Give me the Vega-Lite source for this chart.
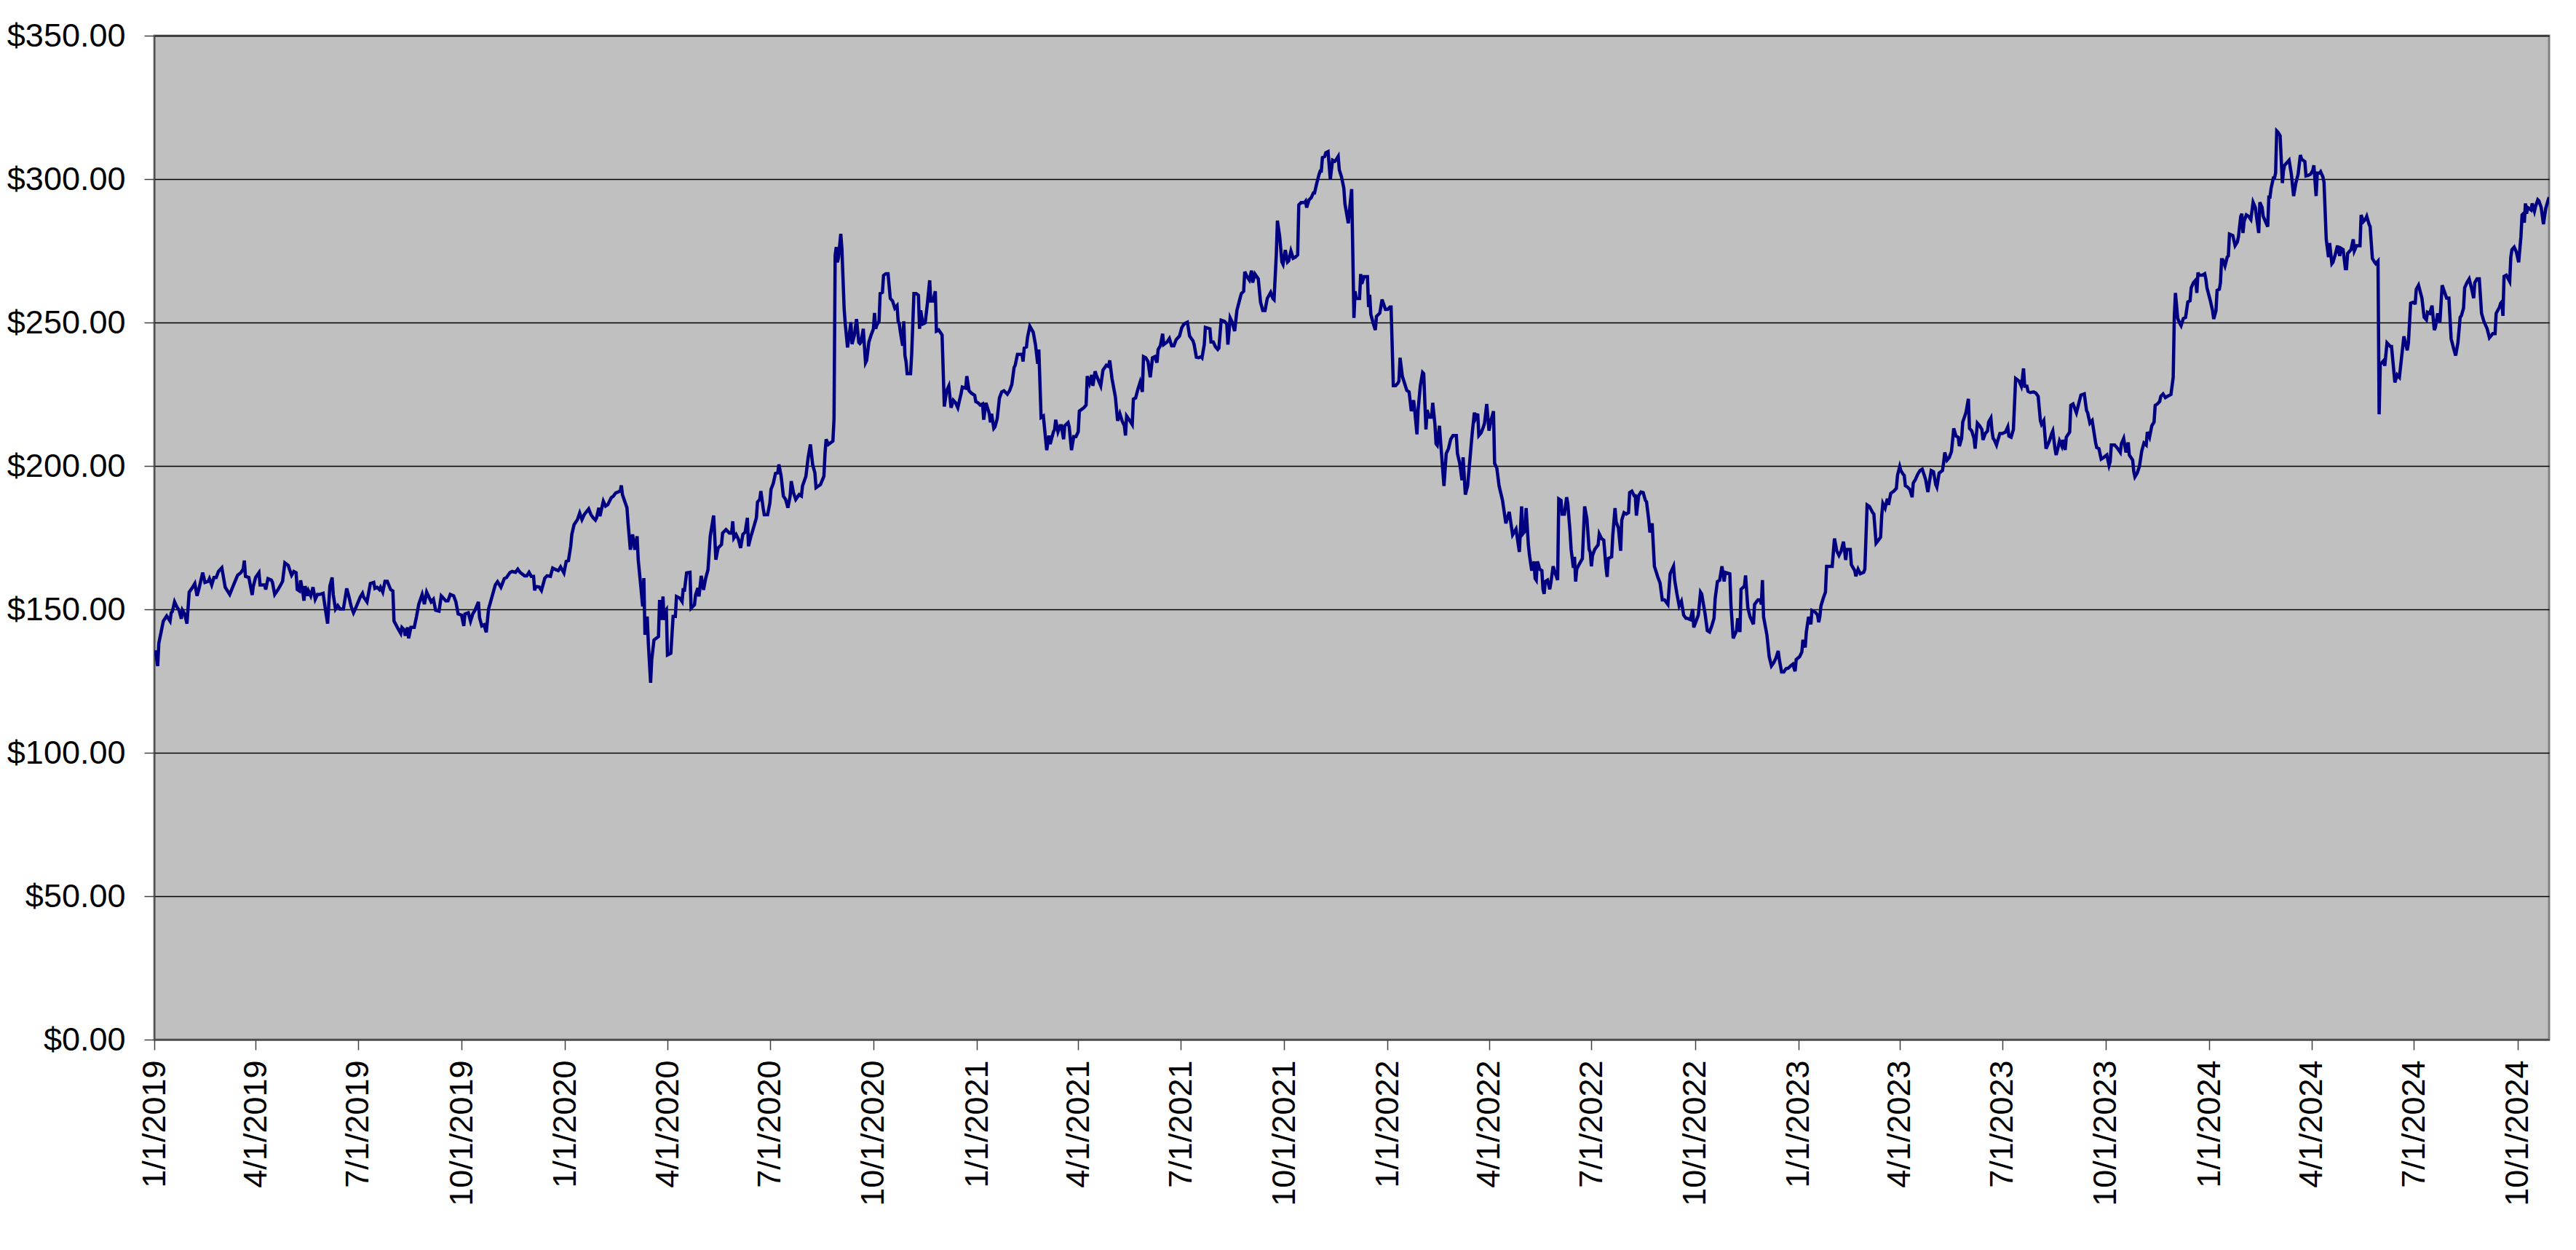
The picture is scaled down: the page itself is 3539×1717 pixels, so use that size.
{
"$schema":"https://vega.github.io/schema/vega-lite/v6.json",
"width":3290,"height":1379,
"autosize":{"type":"none"},
"padding":{"left":212,"top":49,"right":37,"bottom":289},
"background":"#ffffff",
"config":{"view":{"fill":"#C0C0C0","stroke":"#808080","strokeWidth":3},"font":"Liberation Sans"},
"data":{"values":[
{"date":"2019-01-02","price":135.7},{"date":"2019-01-04","price":130.2},{"date":"2019-01-05","price":138.2},{"date":"2019-01-07","price":142.0},{"date":"2019-01-09","price":145.9},{"date":"2019-01-12","price":147.7},{"date":"2019-01-15","price":145.9},{"date":"2019-01-16","price":148.8},{"date":"2019-01-17","price":149.2},{"date":"2019-01-19","price":152.6},{"date":"2019-01-21","price":150.9},{"date":"2019-01-23","price":149.7},{"date":"2019-01-25","price":146.7},{"date":"2019-01-26","price":149.7},{"date":"2019-01-28","price":148.4},{"date":"2019-01-30","price":145.0},
{"date":"2019-02-01","price":156.0},{"date":"2019-02-04","price":157.7},{"date":"2019-02-06","price":159.0},{"date":"2019-02-08","price":154.7},{"date":"2019-02-10","price":157.7},{"date":"2019-02-13","price":162.8},{"date":"2019-02-15","price":159.4},{"date":"2019-02-18","price":159.8},{"date":"2019-02-19","price":160.7},{"date":"2019-02-21","price":158.5},{"date":"2019-02-23","price":161.1},{"date":"2019-02-25","price":161.1},{"date":"2019-02-27","price":163.2},
{"date":"2019-03-02","price":164.5},{"date":"2019-03-05","price":157.7},{"date":"2019-03-09","price":155.2},{"date":"2019-03-12","price":158.1},{"date":"2019-03-16","price":161.9},{"date":"2019-03-19","price":162.8},{"date":"2019-03-21","price":164.0},{"date":"2019-03-22","price":167.0},{"date":"2019-03-23","price":161.5},{"date":"2019-03-26","price":161.1},{"date":"2019-03-29","price":155.0},{"date":"2019-03-30","price":158.1},
{"date":"2019-04-01","price":161.1},{"date":"2019-04-04","price":162.8},{"date":"2019-04-05","price":158.5},{"date":"2019-04-09","price":158.5},{"date":"2019-04-10","price":156.9},{"date":"2019-04-12","price":160.7},{"date":"2019-04-15","price":160.2},{"date":"2019-04-16","price":159.4},{"date":"2019-04-18","price":155.2},{"date":"2019-04-21","price":156.9},{"date":"2019-04-24","price":159.0},{"date":"2019-04-25","price":159.8},{"date":"2019-04-27","price":166.2},{"date":"2019-04-30","price":165.3},
{"date":"2019-05-03","price":161.9},{"date":"2019-05-05","price":163.2},{"date":"2019-05-07","price":162.8},{"date":"2019-05-08","price":156.9},{"date":"2019-05-10","price":156.4},{"date":"2019-05-11","price":160.1},{"date":"2019-05-13","price":156.0},{"date":"2019-05-14","price":153.0},{"date":"2019-05-15","price":158.1},{"date":"2019-05-17","price":154.7},{"date":"2019-05-18","price":156.4},{"date":"2019-05-20","price":154.7},{"date":"2019-05-22","price":157.7},{"date":"2019-05-24","price":153.5},{"date":"2019-05-26","price":155.2},{"date":"2019-05-28","price":155.2},{"date":"2019-05-31","price":155.6},
{"date":"2019-06-02","price":150.1},{"date":"2019-06-04","price":145.0},{"date":"2019-06-06","price":158.1},{"date":"2019-06-08","price":161.1},{"date":"2019-06-09","price":155.2},{"date":"2019-06-11","price":150.1},{"date":"2019-06-13","price":151.3},{"date":"2019-06-15","price":150.1},{"date":"2019-06-18","price":150.1},{"date":"2019-06-21","price":157.3},{"date":"2019-06-23","price":154.3},{"date":"2019-06-25","price":150.9},{"date":"2019-06-27","price":148.8},{"date":"2019-06-29","price":150.5},
{"date":"2019-07-03","price":154.3},{"date":"2019-07-05","price":155.6},{"date":"2019-07-06","price":154.3},{"date":"2019-07-09","price":152.6},{"date":"2019-07-12","price":159.0},{"date":"2019-07-15","price":159.4},{"date":"2019-07-16","price":157.3},{"date":"2019-07-18","price":157.7},{"date":"2019-07-20","price":156.9},{"date":"2019-07-21","price":157.7},{"date":"2019-07-23","price":156.0},{"date":"2019-07-25","price":159.8},{"date":"2019-07-27","price":159.8},{"date":"2019-07-30","price":156.9},
{"date":"2019-08-01","price":156.4},{"date":"2019-08-02","price":145.9},{"date":"2019-08-05","price":143.7},{"date":"2019-08-08","price":141.6},{"date":"2019-08-09","price":143.7},{"date":"2019-08-11","price":142.9},{"date":"2019-08-12","price":140.8},{"date":"2019-08-14","price":143.7},{"date":"2019-08-15","price":139.9},{"date":"2019-08-17","price":143.7},{"date":"2019-08-20","price":143.7},{"date":"2019-08-22","price":147.5},{"date":"2019-08-24","price":151.8},{"date":"2019-08-27","price":155.2},{"date":"2019-08-29","price":151.8},{"date":"2019-08-31","price":156.0},
{"date":"2019-09-02","price":154.3},{"date":"2019-09-04","price":152.6},{"date":"2019-09-06","price":153.5},{"date":"2019-09-08","price":149.7},{"date":"2019-09-11","price":149.4},{"date":"2019-09-13","price":154.7},{"date":"2019-09-17","price":153.0},{"date":"2019-09-19","price":153.0},{"date":"2019-09-21","price":155.2},{"date":"2019-09-24","price":154.7},{"date":"2019-09-26","price":152.6},{"date":"2019-09-28","price":148.4},
{"date":"2019-10-01","price":148.0},{"date":"2019-10-03","price":144.2},{"date":"2019-10-04","price":148.4},{"date":"2019-10-07","price":148.8},{"date":"2019-10-09","price":145.9},{"date":"2019-10-11","price":148.4},{"date":"2019-10-13","price":149.7},{"date":"2019-10-16","price":152.6},{"date":"2019-10-17","price":147.1},{"date":"2019-10-19","price":144.2},{"date":"2019-10-21","price":144.6},{"date":"2019-10-23","price":142.0},{"date":"2019-10-25","price":150.1},{"date":"2019-10-28","price":154.3},{"date":"2019-10-31","price":158.5},
{"date":"2019-11-02","price":159.6},{"date":"2019-11-05","price":157.7},{"date":"2019-11-08","price":160.7},{"date":"2019-11-10","price":161.1},{"date":"2019-11-13","price":162.8},{"date":"2019-11-15","price":163.2},{"date":"2019-11-18","price":162.9},{"date":"2019-11-20","price":164.0},{"date":"2019-11-22","price":162.9},{"date":"2019-11-26","price":161.7},{"date":"2019-11-28","price":161.7},{"date":"2019-11-30","price":162.9},
{"date":"2019-12-02","price":161.5},{"date":"2019-12-04","price":161.5},{"date":"2019-12-05","price":156.6},{"date":"2019-12-06","price":158.0},{"date":"2019-12-09","price":157.8},{"date":"2019-12-11","price":156.6},{"date":"2019-12-14","price":160.9},{"date":"2019-12-16","price":161.7},{"date":"2019-12-19","price":161.5},{"date":"2019-12-21","price":164.4},{"date":"2019-12-24","price":163.8},{"date":"2019-12-26","price":163.5},{"date":"2019-12-28","price":164.8},{"date":"2019-12-31","price":162.7},
{"date":"2020-01-02","price":166.7},{"date":"2020-01-04","price":167.0},{"date":"2020-01-06","price":172.0},{"date":"2020-01-07","price":176.1},{"date":"2020-01-09","price":179.5},{"date":"2020-01-12","price":181.3},{"date":"2020-01-14","price":183.6},{"date":"2020-01-16","price":181.3},{"date":"2020-01-18","price":183.0},{"date":"2020-01-22","price":185.0},{"date":"2020-01-24","price":183.0},{"date":"2020-01-26","price":181.9},{"date":"2020-01-28","price":181.1},{"date":"2020-01-29","price":181.9},{"date":"2020-01-31","price":185.4},
{"date":"2020-02-01","price":182.5},{"date":"2020-02-04","price":187.7},{"date":"2020-02-06","price":186.0},{"date":"2020-02-08","price":186.5},{"date":"2020-02-11","price":188.9},{"date":"2020-02-13","price":189.5},{"date":"2020-02-15","price":190.6},{"date":"2020-02-19","price":191.2},{"date":"2020-02-20","price":193.2},{"date":"2020-02-21","price":190.0},{"date":"2020-02-23","price":187.7},{"date":"2020-02-25","price":185.4},{"date":"2020-02-26","price":180.1},{"date":"2020-02-28","price":170.8},
{"date":"2020-03-01","price":176.1},{"date":"2020-03-03","price":170.8},{"date":"2020-03-05","price":175.5},{"date":"2020-03-06","price":167.3},{"date":"2020-03-08","price":159.2},{"date":"2020-03-10","price":151.0},{"date":"2020-03-11","price":160.9},{"date":"2020-03-12","price":141.1},{"date":"2020-03-14","price":147.5},{"date":"2020-03-15","price":138.2},{"date":"2020-03-17","price":124.4},{"date":"2020-03-18","price":132.4},{"date":"2020-03-20","price":139.3},{"date":"2020-03-22","price":139.9},{"date":"2020-03-24","price":140.5},{"date":"2020-03-25","price":153.3},{"date":"2020-03-27","price":146.3},{"date":"2020-03-28","price":154.5},{"date":"2020-03-29","price":146.3},{"date":"2020-03-30","price":149.2},{"date":"2020-03-31","price":149.8},
{"date":"2020-04-01","price":134.1},{"date":"2020-04-04","price":134.7},{"date":"2020-04-06","price":147.5},{"date":"2020-04-08","price":147.5},{"date":"2020-04-09","price":154.5},{"date":"2020-04-12","price":153.9},{"date":"2020-04-14","price":152.7},{"date":"2020-04-15","price":157.4},{"date":"2020-04-16","price":156.2},{"date":"2020-04-18","price":162.7},{"date":"2020-04-21","price":162.9},{"date":"2020-04-22","price":150.4},{"date":"2020-04-25","price":151.6},{"date":"2020-04-26","price":155.1},{"date":"2020-04-28","price":157.4},{"date":"2020-04-29","price":154.5},
{"date":"2020-05-01","price":161.7},{"date":"2020-05-03","price":156.8},{"date":"2020-05-05","price":160.9},{"date":"2020-05-07","price":163.8},{"date":"2020-05-09","price":175.5},{"date":"2020-05-12","price":182.7},{"date":"2020-05-13","price":175.5},{"date":"2020-05-14","price":167.3},{"date":"2020-05-16","price":171.4},{"date":"2020-05-19","price":172.6},{"date":"2020-05-20","price":176.6},{"date":"2020-05-23","price":177.8},{"date":"2020-05-26","price":176.6},{"date":"2020-05-28","price":176.6},{"date":"2020-05-29","price":180.7},{"date":"2020-05-30","price":174.9},
{"date":"2020-06-01","price":176.1},{"date":"2020-06-03","price":174.5},{"date":"2020-06-05","price":171.4},{"date":"2020-06-07","price":176.1},{"date":"2020-06-09","price":176.9},{"date":"2020-06-11","price":181.9},{"date":"2020-06-12","price":172.0},{"date":"2020-06-14","price":175.2},{"date":"2020-06-16","price":177.8},{"date":"2020-06-19","price":181.9},{"date":"2020-06-20","price":187.4},{"date":"2020-06-22","price":188.3},{"date":"2020-06-23","price":191.2},{"date":"2020-06-25","price":185.4},{"date":"2020-06-26","price":183.0},{"date":"2020-06-29","price":183.0},
{"date":"2020-07-01","price":187.1},{"date":"2020-07-02","price":191.8},{"date":"2020-07-04","price":193.9},{"date":"2020-07-06","price":197.4},{"date":"2020-07-08","price":197.6},{"date":"2020-07-09","price":200.5},{"date":"2020-07-11","price":196.4},{"date":"2020-07-13","price":189.5},{"date":"2020-07-15","price":188.3},{"date":"2020-07-17","price":185.4},{"date":"2020-07-19","price":189.5},{"date":"2020-07-20","price":194.7},{"date":"2020-07-22","price":190.6},{"date":"2020-07-24","price":188.3},{"date":"2020-07-27","price":190.0},{"date":"2020-07-29","price":189.5},{"date":"2020-07-30","price":193.0},
{"date":"2020-08-02","price":196.4},{"date":"2020-08-04","price":202.9},{"date":"2020-08-06","price":207.5},{"date":"2020-08-08","price":200.5},{"date":"2020-08-10","price":197.6},{"date":"2020-08-11","price":192.4},{"date":"2020-08-15","price":193.5},{"date":"2020-08-18","price":196.4},{"date":"2020-08-19","price":204.4},{"date":"2020-08-20","price":209.3},{"date":"2020-08-22","price":207.5},{"date":"2020-08-26","price":208.7},{"date":"2020-08-27","price":216.3},{"date":"2020-08-28","price":273.4},{"date":"2020-08-29","price":276.3},{"date":"2020-08-30","price":271.0},{"date":"2020-08-31","price":272.8},
{"date":"2020-09-02","price":280.9},{"date":"2020-09-03","price":275.7},{"date":"2020-09-05","price":254.7},{"date":"2020-09-06","price":249.5},{"date":"2020-09-08","price":241.3},{"date":"2020-09-11","price":250.1},{"date":"2020-09-12","price":242.5},{"date":"2020-09-14","price":245.4},{"date":"2020-09-16","price":251.2},{"date":"2020-09-18","price":243.1},{"date":"2020-09-19","price":242.7},{"date":"2020-09-20","price":243.2},{"date":"2020-09-22","price":247.8},{"date":"2020-09-24","price":236.0},{"date":"2020-09-25","price":236.8},{"date":"2020-09-27","price":243.2},{"date":"2020-09-29","price":245.7},
{"date":"2020-10-01","price":247.8},{"date":"2020-10-02","price":253.3},{"date":"2020-10-03","price":247.8},{"date":"2020-10-04","price":249.1},{"date":"2020-10-06","price":250.4},{"date":"2020-10-07","price":260.1},{"date":"2020-10-09","price":260.5},{"date":"2020-10-10","price":266.4},{"date":"2020-10-12","price":267.0},{"date":"2020-10-14","price":267.0},{"date":"2020-10-16","price":258.4},{"date":"2020-10-18","price":257.5},{"date":"2020-10-20","price":255.0},{"date":"2020-10-22","price":255.9},{"date":"2020-10-23","price":250.4},{"date":"2020-10-24","price":249.5},{"date":"2020-10-25","price":246.6},{"date":"2020-10-27","price":241.9},{"date":"2020-10-28","price":250.4},{"date":"2020-10-29","price":238.5},{"date":"2020-10-30","price":236.4},{"date":"2020-10-31","price":232.2},
{"date":"2020-11-03","price":232.2},{"date":"2020-11-04","price":238.9},{"date":"2020-11-06","price":260.1},{"date":"2020-11-08","price":260.1},{"date":"2020-11-10","price":259.5},{"date":"2020-11-11","price":247.8},{"date":"2020-11-12","price":254.2},{"date":"2020-11-14","price":249.5},{"date":"2020-11-16","price":249.9},{"date":"2020-11-18","price":256.7},{"date":"2020-11-20","price":264.7},{"date":"2020-11-21","price":257.5},{"date":"2020-11-23","price":257.5},{"date":"2020-11-25","price":260.9},{"date":"2020-11-26","price":247.0},{"date":"2020-11-28","price":247.4},
{"date":"2020-12-01","price":245.7},{"date":"2020-12-03","price":220.7},{"date":"2020-12-05","price":226.2},{"date":"2020-12-07","price":227.9},{"date":"2020-12-09","price":220.3},{"date":"2020-12-11","price":222.9},{"date":"2020-12-13","price":222.0},{"date":"2020-12-15","price":220.3},{"date":"2020-12-18","price":225.4},{"date":"2020-12-19","price":227.5},{"date":"2020-12-22","price":227.1},{"date":"2020-12-23","price":231.3},{"date":"2020-12-25","price":226.2},{"date":"2020-12-27","price":225.4},{"date":"2020-12-30","price":224.6},{"date":"2020-12-31","price":222.4},
{"date":"2021-01-02","price":222.0},{"date":"2021-01-04","price":221.2},{"date":"2021-01-06","price":221.6},{"date":"2021-01-07","price":216.1},{"date":"2021-01-09","price":222.0},{"date":"2021-01-11","price":219.5},{"date":"2021-01-12","price":218.2},{"date":"2021-01-13","price":215.2},{"date":"2021-01-14","price":218.2},{"date":"2021-01-16","price":213.1},{"date":"2021-01-17","price":213.6},{"date":"2021-01-19","price":216.5},{"date":"2021-01-21","price":223.7},{"date":"2021-01-23","price":225.8},{"date":"2021-01-25","price":226.2},{"date":"2021-01-28","price":225.0},{"date":"2021-01-30","price":226.2},
{"date":"2021-02-01","price":228.4},{"date":"2021-02-03","price":234.3},{"date":"2021-02-04","price":235.1},{"date":"2021-02-06","price":238.9},{"date":"2021-02-10","price":238.9},{"date":"2021-02-11","price":236.4},{"date":"2021-02-12","price":241.1},{"date":"2021-02-14","price":241.5},{"date":"2021-02-15","price":244.9},{"date":"2021-02-17","price":248.7},{"date":"2021-02-20","price":246.6},{"date":"2021-02-22","price":242.3},{"date":"2021-02-24","price":235.6},{"date":"2021-02-25","price":240.6},{"date":"2021-02-27","price":216.9},
{"date":"2021-03-01","price":217.4},{"date":"2021-03-04","price":205.5},{"date":"2021-03-06","price":210.6},{"date":"2021-03-07","price":207.6},{"date":"2021-03-10","price":211.9},{"date":"2021-03-11","price":212.7},{"date":"2021-03-12","price":216.1},{"date":"2021-03-14","price":211.9},{"date":"2021-03-16","price":214.0},{"date":"2021-03-17","price":214.0},{"date":"2021-03-19","price":209.3},{"date":"2021-03-20","price":214.0},{"date":"2021-03-23","price":215.1},{"date":"2021-03-24","price":213.6},{"date":"2021-03-26","price":205.5},{"date":"2021-03-28","price":210.2},{"date":"2021-03-30","price":210.2},
{"date":"2021-04-01","price":211.9},{"date":"2021-04-02","price":219.1},{"date":"2021-04-06","price":220.3},{"date":"2021-04-08","price":221.2},{"date":"2021-04-09","price":231.3},{"date":"2021-04-11","price":228.8},{"date":"2021-04-13","price":231.7},{"date":"2021-04-14","price":227.9},{"date":"2021-04-16","price":233.0},{"date":"2021-04-17","price":231.7},{"date":"2021-04-21","price":227.9},{"date":"2021-04-23","price":233.4},{"date":"2021-04-26","price":235.1},{"date":"2021-04-28","price":234.7},{"date":"2021-04-29","price":236.8},
{"date":"2021-05-01","price":230.5},{"date":"2021-05-04","price":224.1},{"date":"2021-05-06","price":215.7},{"date":"2021-05-08","price":218.2},{"date":"2021-05-10","price":215.7},{"date":"2021-05-12","price":214.0},{"date":"2021-05-13","price":210.6},{"date":"2021-05-14","price":217.4},{"date":"2021-05-17","price":215.7},{"date":"2021-05-19","price":214.4},{"date":"2021-05-20","price":223.3},{"date":"2021-05-22","price":223.7},{"date":"2021-05-24","price":226.7},{"date":"2021-05-26","price":229.2},{"date":"2021-05-28","price":225.8},{"date":"2021-05-29","price":238.1},{"date":"2021-05-31","price":237.7},
{"date":"2021-06-02","price":236.4},{"date":"2021-06-04","price":230.9},{"date":"2021-06-06","price":237.7},{"date":"2021-06-08","price":238.1},{"date":"2021-06-10","price":236.0},{"date":"2021-06-11","price":240.6},{"date":"2021-06-13","price":241.9},{"date":"2021-06-15","price":246.1},{"date":"2021-06-16","price":242.3},{"date":"2021-06-19","price":243.2},{"date":"2021-06-21","price":244.4},{"date":"2021-06-23","price":241.9},{"date":"2021-06-25","price":241.9},{"date":"2021-06-27","price":244.0},{"date":"2021-06-30","price":245.3},
{"date":"2021-07-02","price":248.2},{"date":"2021-07-04","price":249.5},{"date":"2021-07-07","price":250.1},{"date":"2021-07-09","price":245.3},{"date":"2021-07-12","price":243.6},{"date":"2021-07-13","price":242.3},{"date":"2021-07-15","price":237.9},{"date":"2021-07-17","price":237.7},{"date":"2021-07-19","price":238.1},{"date":"2021-07-20","price":237.7},{"date":"2021-07-22","price":242.3},{"date":"2021-07-23","price":248.3},{"date":"2021-07-27","price":247.8},{"date":"2021-07-28","price":243.2},{"date":"2021-07-30","price":243.2},
{"date":"2021-08-01","price":241.5},{"date":"2021-08-03","price":240.6},{"date":"2021-08-04","price":241.1},{"date":"2021-08-06","price":250.8},{"date":"2021-08-09","price":250.4},{"date":"2021-08-11","price":249.5},{"date":"2021-08-12","price":242.3},{"date":"2021-08-14","price":251.6},{"date":"2021-08-16","price":249.9},{"date":"2021-08-18","price":247.0},{"date":"2021-08-20","price":254.2},{"date":"2021-08-23","price":258.8},{"date":"2021-08-24","price":260.1},{"date":"2021-08-26","price":260.9},{"date":"2021-08-27","price":267.7},{"date":"2021-08-29","price":266.0},{"date":"2021-08-31","price":264.8},
{"date":"2021-09-02","price":268.1},{"date":"2021-09-03","price":263.9},{"date":"2021-09-05","price":266.9},{"date":"2021-09-08","price":265.2},{"date":"2021-09-10","price":257.1},{"date":"2021-09-12","price":254.2},{"date":"2021-09-14","price":254.2},{"date":"2021-09-16","price":258.4},{"date":"2021-09-19","price":260.5},{"date":"2021-09-21","price":258.4},{"date":"2021-09-22","price":258.0},{"date":"2021-09-24","price":273.6},{"date":"2021-09-25","price":285.5},{"date":"2021-09-27","price":280.0},{"date":"2021-09-29","price":271.1},{"date":"2021-09-30","price":270.3},
{"date":"2021-10-02","price":275.3},{"date":"2021-10-04","price":271.1},{"date":"2021-10-05","price":271.5},{"date":"2021-10-07","price":274.9},{"date":"2021-10-09","price":272.4},{"date":"2021-10-11","price":272.8},{"date":"2021-10-13","price":273.6},{"date":"2021-10-14","price":291.0},{"date":"2021-10-16","price":291.8},{"date":"2021-10-19","price":291.8},{"date":"2021-10-20","price":292.3},{"date":"2021-10-21","price":290.1},{"date":"2021-10-23","price":292.7},{"date":"2021-10-25","price":293.5},{"date":"2021-10-27","price":295.2},{"date":"2021-10-28","price":295.2},{"date":"2021-10-30","price":298.6},
{"date":"2021-11-01","price":301.6},{"date":"2021-11-02","price":302.8},{"date":"2021-11-03","price":302.8},{"date":"2021-11-04","price":307.5},{"date":"2021-11-06","price":307.9},{"date":"2021-11-07","price":309.2},{"date":"2021-11-09","price":309.6},{"date":"2021-11-11","price":299.9},{"date":"2021-11-13","price":306.6},{"date":"2021-11-15","price":306.2},{"date":"2021-11-16","price":306.6},{"date":"2021-11-18","price":307.9},{"date":"2021-11-19","price":303.2},{"date":"2021-11-21","price":300.7},{"date":"2021-11-23","price":296.9},{"date":"2021-11-24","price":291.4},{"date":"2021-11-27","price":284.6},{"date":"2021-11-28","price":288.9},{"date":"2021-11-30","price":296.5},
{"date":"2021-12-02","price":251.6},{"date":"2021-12-03","price":260.9},{"date":"2021-12-04","price":258.4},{"date":"2021-12-07","price":258.4},{"date":"2021-12-08","price":266.9},{"date":"2021-12-09","price":263.5},{"date":"2021-12-11","price":266.0},{"date":"2021-12-14","price":266.0},{"date":"2021-12-15","price":255.4},{"date":"2021-12-16","price":259.7},{"date":"2021-12-17","price":252.9},{"date":"2021-12-19","price":249.9},{"date":"2021-12-21","price":247.4},{"date":"2021-12-22","price":252.1},{"date":"2021-12-25","price":253.3},{"date":"2021-12-27","price":258.0},{"date":"2021-12-30","price":254.6},
{"date":"2022-01-01","price":254.6},{"date":"2022-01-03","price":255.4},{"date":"2022-01-04","price":255.4},{"date":"2022-01-06","price":228.0},{"date":"2022-01-08","price":228.0},{"date":"2022-01-10","price":228.8},{"date":"2022-01-11","price":229.6},{"date":"2022-01-12","price":237.7},{"date":"2022-01-14","price":231.3},{"date":"2022-01-16","price":228.8},{"date":"2022-01-18","price":226.3},{"date":"2022-01-20","price":225.8},{"date":"2022-01-22","price":219.1},{"date":"2022-01-24","price":222.9},{"date":"2022-01-25","price":219.5},{"date":"2022-01-27","price":211.0},{"date":"2022-01-28","price":219.5},{"date":"2022-01-30","price":228.0},
{"date":"2022-02-01","price":232.6},{"date":"2022-02-02","price":232.2},{"date":"2022-02-04","price":212.7},{"date":"2022-02-05","price":219.5},{"date":"2022-02-07","price":217.0},{"date":"2022-02-09","price":217.0},{"date":"2022-02-10","price":222.0},{"date":"2022-02-12","price":214.4},{"date":"2022-02-13","price":207.7},{"date":"2022-02-14","price":207.2},{"date":"2022-02-16","price":214.0},{"date":"2022-02-17","price":208.5},{"date":"2022-02-20","price":193.0},{"date":"2022-02-22","price":204.3},{"date":"2022-02-24","price":206.0},{"date":"2022-02-26","price":209.3},{"date":"2022-02-28","price":210.6},
{"date":"2022-03-03","price":210.6},{"date":"2022-03-04","price":204.3},{"date":"2022-03-06","price":200.9},{"date":"2022-03-08","price":195.0},{"date":"2022-03-09","price":203.0},{"date":"2022-03-11","price":190.0},{"date":"2022-03-13","price":193.0},{"date":"2022-03-17","price":211.0},{"date":"2022-03-19","price":218.6},{"date":"2022-03-20","price":216.5},{"date":"2022-03-22","price":218.2},{"date":"2022-03-23","price":210.6},{"date":"2022-03-25","price":211.5},{"date":"2022-03-27","price":213.6},{"date":"2022-03-28","price":214.8},{"date":"2022-03-30","price":221.6},
{"date":"2022-04-01","price":212.3},{"date":"2022-04-03","price":216.1},{"date":"2022-04-05","price":219.1},{"date":"2022-04-06","price":200.9},{"date":"2022-04-08","price":199.2},{"date":"2022-04-10","price":193.0},{"date":"2022-04-13","price":188.0},{"date":"2022-04-16","price":180.0},{"date":"2022-04-19","price":184.0},{"date":"2022-04-22","price":176.0},{"date":"2022-04-25","price":178.0},{"date":"2022-04-28","price":170.0},{"date":"2022-04-30","price":185.9},
{"date":"2022-05-01","price":176.3},{"date":"2022-05-03","price":177.3},{"date":"2022-05-04","price":185.3},{"date":"2022-05-06","price":172.5},{"date":"2022-05-07","price":168.8},{"date":"2022-05-09","price":163.5},{"date":"2022-05-11","price":166.7},{"date":"2022-05-12","price":160.8},{"date":"2022-05-13","price":160.2},{"date":"2022-05-14","price":166.7},{"date":"2022-05-15","price":165.6},{"date":"2022-05-16","price":164.0},{"date":"2022-05-18","price":163.5},{"date":"2022-05-19","price":157.0},{"date":"2022-05-20","price":155.4},{"date":"2022-05-21","price":159.7},{"date":"2022-05-23","price":160.2},{"date":"2022-05-25","price":157.0},{"date":"2022-05-26","price":159.2},{"date":"2022-05-28","price":165.0},{"date":"2022-05-30","price":162.4},
{"date":"2022-06-01","price":160.2},{"date":"2022-06-02","price":188.5},{"date":"2022-06-04","price":188.0},{"date":"2022-06-05","price":183.2},{"date":"2022-06-07","price":183.2},{"date":"2022-06-09","price":189.1},{"date":"2022-06-10","price":187.0},{"date":"2022-06-12","price":177.3},{"date":"2022-06-13","price":170.9},{"date":"2022-06-15","price":164.5},{"date":"2022-06-16","price":168.3},{"date":"2022-06-17","price":159.7},{"date":"2022-06-18","price":164.0},{"date":"2022-06-20","price":165.6},{"date":"2022-06-23","price":167.7},{"date":"2022-06-25","price":185.9},{"date":"2022-06-27","price":181.6},{"date":"2022-06-29","price":170.9},{"date":"2022-06-30","price":169.9},
{"date":"2022-07-01","price":165.0},{"date":"2022-07-02","price":168.8},{"date":"2022-07-04","price":170.9},{"date":"2022-07-07","price":172.5},{"date":"2022-07-08","price":176.3},{"date":"2022-07-10","price":174.7},{"date":"2022-07-12","price":174.1},{"date":"2022-07-14","price":164.5},{"date":"2022-07-15","price":161.3},{"date":"2022-07-16","price":167.7},{"date":"2022-07-19","price":168.3},{"date":"2022-07-20","price":175.7},{"date":"2022-07-22","price":185.3},{"date":"2022-07-23","price":180.5},{"date":"2022-07-25","price":178.4},{"date":"2022-07-27","price":170.4},{"date":"2022-07-28","price":181.1},{"date":"2022-07-30","price":183.7},
{"date":"2022-08-01","price":183.2},{"date":"2022-08-03","price":183.7},{"date":"2022-08-04","price":190.7},{"date":"2022-08-06","price":191.2},{"date":"2022-08-08","price":189.6},{"date":"2022-08-09","price":189.6},{"date":"2022-08-10","price":182.7},{"date":"2022-08-12","price":189.6},{"date":"2022-08-14","price":190.9},{"date":"2022-08-16","price":190.7},{"date":"2022-08-18","price":188.0},{"date":"2022-08-19","price":187.5},{"date":"2022-08-21","price":181.1},{"date":"2022-08-22","price":176.8},{"date":"2022-08-24","price":180.0},{"date":"2022-08-26","price":165.0},{"date":"2022-08-29","price":161.3},{"date":"2022-08-31","price":159.2},
{"date":"2022-09-02","price":153.3},{"date":"2022-09-04","price":153.3},{"date":"2022-09-07","price":151.7},{"date":"2022-09-09","price":162.4},{"date":"2022-09-12","price":165.0},{"date":"2022-09-13","price":160.2},{"date":"2022-09-15","price":155.4},{"date":"2022-09-17","price":151.2},{"date":"2022-09-19","price":152.8},{"date":"2022-09-21","price":148.0},{"date":"2022-09-23","price":146.9},{"date":"2022-09-24","price":146.9},{"date":"2022-09-27","price":146.4},{"date":"2022-09-29","price":150.1},{"date":"2022-09-30","price":143.7},
{"date":"2022-10-02","price":145.8},{"date":"2022-10-04","price":148.0},{"date":"2022-10-06","price":156.0},{"date":"2022-10-07","price":155.4},{"date":"2022-10-10","price":148.5},{"date":"2022-10-12","price":142.6},{"date":"2022-10-14","price":142.1},{"date":"2022-10-16","price":144.2},{"date":"2022-10-18","price":146.9},{"date":"2022-10-19","price":153.8},{"date":"2022-10-21","price":159.7},{"date":"2022-10-23","price":160.2},{"date":"2022-10-25","price":165.0},{"date":"2022-10-27","price":159.7},{"date":"2022-10-28","price":162.9},
{"date":"2022-11-01","price":162.4},{"date":"2022-11-02","price":151.7},{"date":"2022-11-04","price":139.9},{"date":"2022-11-07","price":142.6},{"date":"2022-11-08","price":146.9},{"date":"2022-11-10","price":142.1},{"date":"2022-11-11","price":157.0},{"date":"2022-11-14","price":158.1},{"date":"2022-11-15","price":161.8},{"date":"2022-11-17","price":150.6},{"date":"2022-11-19","price":147.4},{"date":"2022-11-22","price":144.8},{"date":"2022-11-23","price":151.7},{"date":"2022-11-26","price":153.3},{"date":"2022-11-28","price":153.3},{"date":"2022-11-29","price":151.7},{"date":"2022-11-30","price":160.2},
{"date":"2022-12-01","price":147.4},{"date":"2022-12-04","price":141.0},{"date":"2022-12-06","price":133.5},{"date":"2022-12-08","price":130.3},{"date":"2022-12-10","price":131.4},{"date":"2022-12-12","price":133.0},{"date":"2022-12-14","price":135.5},{"date":"2022-12-15","price":132.5},{"date":"2022-12-17","price":128.2},{"date":"2022-12-19","price":128.2},{"date":"2022-12-21","price":129.3},{"date":"2022-12-23","price":129.5},{"date":"2022-12-25","price":130.3},{"date":"2022-12-27","price":130.9},{"date":"2022-12-29","price":128.4},{"date":"2022-12-30","price":132.5},
{"date":"2023-01-02","price":133.5},{"date":"2023-01-04","price":135.1},{"date":"2023-01-05","price":139.4},{"date":"2023-01-07","price":136.7},{"date":"2023-01-08","price":142.1},{"date":"2023-01-09","price":144.8},{"date":"2023-01-10","price":147.4},{"date":"2023-01-12","price":144.8},{"date":"2023-01-13","price":149.6},{"date":"2023-01-16","price":149.0},{"date":"2023-01-18","price":148.0},{"date":"2023-01-19","price":145.5},{"date":"2023-01-20","price":147.4},{"date":"2023-01-21","price":151.2},{"date":"2023-01-23","price":153.8},{"date":"2023-01-25","price":156.0},{"date":"2023-01-26","price":165.0},{"date":"2023-01-31","price":165.0},
{"date":"2023-02-02","price":174.7},{"date":"2023-02-04","price":170.4},{"date":"2023-02-06","price":168.8},{"date":"2023-02-08","price":170.4},{"date":"2023-02-10","price":173.6},{"date":"2023-02-12","price":167.2},{"date":"2023-02-13","price":170.9},{"date":"2023-02-16","price":170.9},{"date":"2023-02-17","price":165.6},{"date":"2023-02-20","price":163.5},{"date":"2023-02-21","price":161.5},{"date":"2023-02-23","price":164.0},{"date":"2023-02-25","price":162.4},{"date":"2023-02-28","price":162.9},
{"date":"2023-03-01","price":164.0},{"date":"2023-03-03","price":186.4},{"date":"2023-03-05","price":185.9},{"date":"2023-03-08","price":183.7},{"date":"2023-03-09","price":183.2},{"date":"2023-03-11","price":173.1},{"date":"2023-03-13","price":174.1},{"date":"2023-03-15","price":175.2},{"date":"2023-03-16","price":182.7},{"date":"2023-03-17","price":186.9},{"date":"2023-03-19","price":185.3},{"date":"2023-03-21","price":188.6},{"date":"2023-03-22","price":186.4},{"date":"2023-03-24","price":190.4},{"date":"2023-03-27","price":191.3},{"date":"2023-03-29","price":192.2},{"date":"2023-03-30","price":196.7},
{"date":"2023-04-01","price":199.8},{"date":"2023-04-02","price":198.4},{"date":"2023-04-04","price":197.1},{"date":"2023-04-05","price":196.7},{"date":"2023-04-06","price":193.1},{"date":"2023-04-08","price":192.6},{"date":"2023-04-10","price":191.8},{"date":"2023-04-12","price":189.1},{"date":"2023-04-13","price":194.0},{"date":"2023-04-15","price":195.3},{"date":"2023-04-17","price":197.1},{"date":"2023-04-19","price":198.4},{"date":"2023-04-21","price":198.9},{"date":"2023-04-24","price":195.3},{"date":"2023-04-26","price":190.9},{"date":"2023-04-27","price":193.5},{"date":"2023-04-29","price":198.4},
{"date":"2023-05-01","price":198.0},{"date":"2023-05-03","price":193.5},{"date":"2023-05-04","price":192.6},{"date":"2023-05-06","price":197.5},{"date":"2023-05-09","price":198.4},{"date":"2023-05-10","price":201.1},{"date":"2023-05-11","price":204.7},{"date":"2023-05-13","price":202.0},{"date":"2023-05-15","price":202.9},{"date":"2023-05-17","price":205.1},{"date":"2023-05-19","price":213.1},{"date":"2023-05-21","price":210.4},{"date":"2023-05-23","price":210.0},{"date":"2023-05-24","price":206.9},{"date":"2023-05-26","price":209.6},{"date":"2023-05-27","price":215.3},{"date":"2023-05-29","price":217.6},{"date":"2023-05-30","price":218.9},
{"date":"2023-06-01","price":223.4},{"date":"2023-06-02","price":213.1},{"date":"2023-06-04","price":212.2},{"date":"2023-06-05","price":210.9},{"date":"2023-06-06","price":209.6},{"date":"2023-06-07","price":206.0},{"date":"2023-06-09","price":214.9},{"date":"2023-06-11","price":214.0},{"date":"2023-06-13","price":212.7},{"date":"2023-06-14","price":209.1},{"date":"2023-06-16","price":211.3},{"date":"2023-06-18","price":212.2},{"date":"2023-06-19","price":215.3},{"date":"2023-06-21","price":216.7},{"date":"2023-06-22","price":212.2},{"date":"2023-06-23","price":209.6},{"date":"2023-06-24","price":209.1},{"date":"2023-06-26","price":207.3},{"date":"2023-06-27","price":208.7},{"date":"2023-06-29","price":211.3},
{"date":"2023-07-01","price":211.3},{"date":"2023-07-04","price":211.8},{"date":"2023-07-06","price":213.6},{"date":"2023-07-07","price":210.4},{"date":"2023-07-09","price":210.0},{"date":"2023-07-11","price":212.7},{"date":"2023-07-13","price":230.5},{"date":"2023-07-16","price":229.6},{"date":"2023-07-18","price":227.8},{"date":"2023-07-19","price":230.5},{"date":"2023-07-20","price":234.0},{"date":"2023-07-21","price":227.8},{"date":"2023-07-23","price":227.8},{"date":"2023-07-24","price":226.0},{"date":"2023-07-26","price":225.6},{"date":"2023-07-29","price":225.8},{"date":"2023-07-31","price":225.4},
{"date":"2023-08-02","price":224.3},{"date":"2023-08-04","price":215.8},{"date":"2023-08-05","price":214.5},{"date":"2023-08-07","price":215.8},{"date":"2023-08-09","price":206.0},{"date":"2023-08-12","price":208.7},{"date":"2023-08-14","price":211.3},{"date":"2023-08-15","price":212.2},{"date":"2023-08-17","price":206.0},{"date":"2023-08-18","price":203.8},{"date":"2023-08-20","price":206.9},{"date":"2023-08-21","price":208.7},{"date":"2023-08-23","price":206.9},{"date":"2023-08-24","price":209.1},{"date":"2023-08-26","price":205.6},{"date":"2023-08-27","price":210.0},{"date":"2023-08-30","price":211.8},{"date":"2023-08-31","price":221.1},
{"date":"2023-09-02","price":221.6},{"date":"2023-09-05","price":218.5},{"date":"2023-09-07","price":221.6},{"date":"2023-09-09","price":224.7},{"date":"2023-09-12","price":225.1},{"date":"2023-09-14","price":219.3},{"date":"2023-09-15","price":218.5},{"date":"2023-09-17","price":214.9},{"date":"2023-09-19","price":215.8},{"date":"2023-09-22","price":208.2},{"date":"2023-09-23","price":206.4},{"date":"2023-09-25","price":206.0},{"date":"2023-09-27","price":202.4},{"date":"2023-09-29","price":202.9},
{"date":"2023-10-02","price":203.8},{"date":"2023-10-04","price":200.2},{"date":"2023-10-05","price":201.5},{"date":"2023-10-06","price":207.3},{"date":"2023-10-09","price":207.3},{"date":"2023-10-11","price":206.4},{"date":"2023-10-14","price":204.7},{"date":"2023-10-15","price":207.8},{"date":"2023-10-17","price":209.6},{"date":"2023-10-19","price":204.7},{"date":"2023-10-21","price":208.2},{"date":"2023-10-22","price":203.8},{"date":"2023-10-25","price":202.0},{"date":"2023-10-26","price":198.0},{"date":"2023-10-27","price":196.2},{"date":"2023-10-29","price":197.5},{"date":"2023-10-31","price":199.8},
{"date":"2023-11-02","price":205.1},{"date":"2023-11-04","price":208.0},{"date":"2023-11-06","price":207.3},{"date":"2023-11-07","price":211.8},{"date":"2023-11-09","price":210.0},{"date":"2023-11-11","price":214.0},{"date":"2023-11-13","price":215.3},{"date":"2023-11-14","price":221.1},{"date":"2023-11-16","price":221.6},{"date":"2023-11-18","price":222.5},{"date":"2023-11-19","price":224.3},{"date":"2023-11-21","price":225.1},{"date":"2023-11-23","price":223.8},{"date":"2023-11-25","price":224.3},{"date":"2023-11-28","price":224.9},{"date":"2023-11-30","price":230.9},
{"date":"2023-12-01","price":252.3},{"date":"2023-12-02","price":260.3},{"date":"2023-12-04","price":251.4},{"date":"2023-12-06","price":249.6},{"date":"2023-12-07","price":248.9},{"date":"2023-12-09","price":251.4},{"date":"2023-12-11","price":251.8},{"date":"2023-12-13","price":257.2},{"date":"2023-12-15","price":257.6},{"date":"2023-12-16","price":262.1},{"date":"2023-12-18","price":263.9},{"date":"2023-12-20","price":264.8},{"date":"2023-12-21","price":260.3},{"date":"2023-12-22","price":267.4},{"date":"2023-12-23","price":266.5},{"date":"2023-12-26","price":266.5},{"date":"2023-12-28","price":267.0},{"date":"2023-12-29","price":265.2},{"date":"2023-12-30","price":262.1},
{"date":"2024-01-02","price":257.6},{"date":"2024-01-04","price":254.1},{"date":"2024-01-05","price":251.2},{"date":"2024-01-07","price":254.1},{"date":"2024-01-08","price":261.2},{"date":"2024-01-10","price":261.6},{"date":"2024-01-11","price":263.9},{"date":"2024-01-12","price":271.9},{"date":"2024-01-13","price":271.9},{"date":"2024-01-15","price":269.7},{"date":"2024-01-17","price":272.8},{"date":"2024-01-18","price":273.2},{"date":"2024-01-19","price":280.8},{"date":"2024-01-22","price":280.3},{"date":"2024-01-24","price":276.8},{"date":"2024-01-26","price":278.1},{"date":"2024-01-27","price":279.9},{"date":"2024-01-29","price":287.0},{"date":"2024-01-30","price":287.9},{"date":"2024-01-31","price":281.2},
{"date":"2024-02-01","price":285.2},{"date":"2024-02-03","price":287.5},{"date":"2024-02-05","price":287.0},{"date":"2024-02-07","price":285.9},{"date":"2024-02-09","price":291.9},{"date":"2024-02-11","price":290.1},{"date":"2024-02-12","price":287.0},{"date":"2024-02-14","price":281.2},{"date":"2024-02-15","price":291.9},{"date":"2024-02-17","price":290.1},{"date":"2024-02-18","price":287.0},{"date":"2024-02-20","price":285.2},{"date":"2024-02-22","price":283.4},{"date":"2024-02-23","price":293.7},{"date":"2024-02-24","price":293.7},{"date":"2024-02-25","price":296.8},{"date":"2024-02-27","price":300.4},{"date":"2024-02-28","price":300.4},{"date":"2024-02-29","price":302.1},
{"date":"2024-03-01","price":316.8},{"date":"2024-03-02","price":316.4},{"date":"2024-03-04","price":315.1},{"date":"2024-03-06","price":298.6},{"date":"2024-03-07","price":303.0},{"date":"2024-03-08","price":304.8},{"date":"2024-03-10","price":305.7},{"date":"2024-03-12","price":306.6},{"date":"2024-03-14","price":301.7},{"date":"2024-03-16","price":294.1},{"date":"2024-03-18","price":298.6},{"date":"2024-03-20","price":301.7},{"date":"2024-03-22","price":308.4},{"date":"2024-03-23","price":307.0},{"date":"2024-03-26","price":306.1},{"date":"2024-03-27","price":301.1},{"date":"2024-03-29","price":301.3},{"date":"2024-03-31","price":301.7},
{"date":"2024-04-02","price":303.0},{"date":"2024-04-03","price":304.8},{"date":"2024-04-05","price":294.1},{"date":"2024-04-06","price":302.1},{"date":"2024-04-08","price":302.1},{"date":"2024-04-09","price":302.6},{"date":"2024-04-11","price":300.8},{"date":"2024-04-12","price":299.0},{"date":"2024-04-14","price":279.0},{"date":"2024-04-16","price":272.8},{"date":"2024-04-17","price":277.7},{"date":"2024-04-19","price":270.5},{"date":"2024-04-20","price":271.0},{"date":"2024-04-22","price":273.7},{"date":"2024-04-24","price":276.8},{"date":"2024-04-26","price":273.2},{"date":"2024-04-27","price":275.9},{"date":"2024-04-29","price":275.4},
{"date":"2024-05-01","price":268.8},{"date":"2024-05-02","price":268.8},{"date":"2024-05-03","price":274.1},{"date":"2024-05-06","price":275.4},{"date":"2024-05-08","price":279.0},{"date":"2024-05-09","price":275.0},{"date":"2024-05-11","price":276.8},{"date":"2024-05-14","price":276.8},{"date":"2024-05-15","price":287.5},{"date":"2024-05-17","price":285.2},{"date":"2024-05-19","price":286.1},{"date":"2024-05-20","price":287.0},{"date":"2024-05-22","price":284.3},{"date":"2024-05-23","price":283.4},{"date":"2024-05-25","price":272.3},{"date":"2024-05-27","price":271.0},{"date":"2024-05-28","price":270.5},{"date":"2024-05-30","price":271.4},{"date":"2024-05-31","price":218.0},
{"date":"2024-06-01","price":235.4},{"date":"2024-06-02","price":235.8},{"date":"2024-06-04","price":236.7},{"date":"2024-06-05","price":234.9},{"date":"2024-06-07","price":242.9},{"date":"2024-06-10","price":241.6},{"date":"2024-06-11","price":241.6},{"date":"2024-06-14","price":229.1},{"date":"2024-06-16","price":231.8},{"date":"2024-06-18","price":230.9},{"date":"2024-06-21","price":241.6},{"date":"2024-06-22","price":245.2},{"date":"2024-06-25","price":240.3},{"date":"2024-06-26","price":242.9},{"date":"2024-06-28","price":256.7},
{"date":"2024-07-01","price":257.2},{"date":"2024-07-02","price":256.3},{"date":"2024-07-03","price":261.6},{"date":"2024-07-05","price":263.0},{"date":"2024-07-08","price":258.5},{"date":"2024-07-10","price":251.8},{"date":"2024-07-12","price":250.9},{"date":"2024-07-13","price":253.6},{"date":"2024-07-15","price":253.2},{"date":"2024-07-17","price":255.9},{"date":"2024-07-19","price":247.4},{"date":"2024-07-20","price":248.3},{"date":"2024-07-22","price":253.2},{"date":"2024-07-24","price":250.1},{"date":"2024-07-26","price":263.0},{"date":"2024-07-28","price":260.7},{"date":"2024-07-30","price":258.5},
{"date":"2024-08-01","price":258.5},{"date":"2024-08-03","price":244.3},{"date":"2024-08-05","price":241.2},{"date":"2024-08-07","price":238.5},{"date":"2024-08-09","price":242.9},{"date":"2024-08-11","price":251.8},{"date":"2024-08-12","price":252.3},{"date":"2024-08-14","price":255.0},{"date":"2024-08-15","price":262.1},{"date":"2024-08-17","price":263.9},{"date":"2024-08-19","price":265.2},{"date":"2024-08-21","price":262.1},{"date":"2024-08-23","price":258.5},{"date":"2024-08-24","price":263.9},{"date":"2024-08-26","price":265.2},{"date":"2024-08-28","price":265.2},{"date":"2024-08-30","price":253.2},
{"date":"2024-09-01","price":250.5},{"date":"2024-09-04","price":247.8},{"date":"2024-09-06","price":244.7},{"date":"2024-09-09","price":246.1},{"date":"2024-09-11","price":246.1},{"date":"2024-09-12","price":253.2},{"date":"2024-09-15","price":255.4},{"date":"2024-09-16","price":256.7},{"date":"2024-09-17","price":257.2},{"date":"2024-09-18","price":252.3},{"date":"2024-09-19","price":266.1},{"date":"2024-09-21","price":266.5},{"date":"2024-09-24","price":264.3},{"date":"2024-09-25","price":272.8},{"date":"2024-09-26","price":275.4},{"date":"2024-09-28","price":276.3},{"date":"2024-09-30","price":274.5},
{"date":"2024-10-02","price":271.0},{"date":"2024-10-04","price":279.9},{"date":"2024-10-05","price":287.5},{"date":"2024-10-06","price":287.9},{"date":"2024-10-07","price":284.8},{"date":"2024-10-08","price":291.5},{"date":"2024-10-09","price":287.9},{"date":"2024-10-10","price":290.1},{"date":"2024-10-13","price":289.2},{"date":"2024-10-14","price":291.5},{"date":"2024-10-16","price":288.8},{"date":"2024-10-17","price":290.5},{"date":"2024-10-19","price":292.8},{"date":"2024-10-20","price":292.4},{"date":"2024-10-22","price":290.1},{"date":"2024-10-24","price":284.3},{"date":"2024-10-26","price":289.7},{"date":"2024-10-28","price":292.4},{"date":"2024-10-29","price":293.7}
]},
"mark":{"type":"line","color":"#000080","strokeWidth":4.5,"clip":true},
"encoding":{
"x":{"field":"date","type":"temporal",
 "scale":{"type":"utc","domain":[{"year":2019,"month":1,"date":1,"utc":true},{"year":2024,"month":10,"date":29,"utc":true}]},
 "axis":{"title":null,"format":"%-m/%-d/%Y","labelAngle":270,"labelAlign":"right","labelBaseline":"middle","labelFontSize":45,"labelFont":"Liberation Sans","labelColor":"#000000","labelPadding":14,"labelLimit":0,"labelOverlap":false,"labelFlush":false,"tickSize":14,"tickColor":"#404040","tickWidth":1.5,"domainColor":"#404040","domainWidth":1.5,"grid":false,
 "values":[{"year":2019,"month":1,"date":1,"utc":true},{"year":2019,"month":4,"date":1,"utc":true},{"year":2019,"month":7,"date":1,"utc":true},{"year":2019,"month":10,"date":1,"utc":true},{"year":2020,"month":1,"date":1,"utc":true},{"year":2020,"month":4,"date":1,"utc":true},{"year":2020,"month":7,"date":1,"utc":true},{"year":2020,"month":10,"date":1,"utc":true},{"year":2021,"month":1,"date":1,"utc":true},{"year":2021,"month":4,"date":1,"utc":true},{"year":2021,"month":7,"date":1,"utc":true},{"year":2021,"month":10,"date":1,"utc":true},{"year":2022,"month":1,"date":1,"utc":true},{"year":2022,"month":4,"date":1,"utc":true},{"year":2022,"month":7,"date":1,"utc":true},{"year":2022,"month":10,"date":1,"utc":true},{"year":2023,"month":1,"date":1,"utc":true},{"year":2023,"month":4,"date":1,"utc":true},{"year":2023,"month":7,"date":1,"utc":true},{"year":2023,"month":10,"date":1,"utc":true},{"year":2024,"month":1,"date":1,"utc":true},{"year":2024,"month":4,"date":1,"utc":true},{"year":2024,"month":7,"date":1,"utc":true},{"year":2024,"month":10,"date":1,"utc":true}]}},
"y":{"field":"price","type":"quantitative",
 "scale":{"domain":[0,350],"nice":false,"zero":true},
 "axis":{"title":null,"values":[0,50,100,150,200,250,300,350],"format":"$.2f","labelFontSize":45,"labelFont":"Liberation Sans","labelColor":"#000000","labelPadding":26,"labelLimit":0,"tickSize":14,"tickColor":"#404040","tickWidth":1.5,"domainColor":"#404040","domainWidth":1.5,"grid":true,"gridColor":"#000000","gridWidth":1.5,"gridOpacity":1}}
}
}
